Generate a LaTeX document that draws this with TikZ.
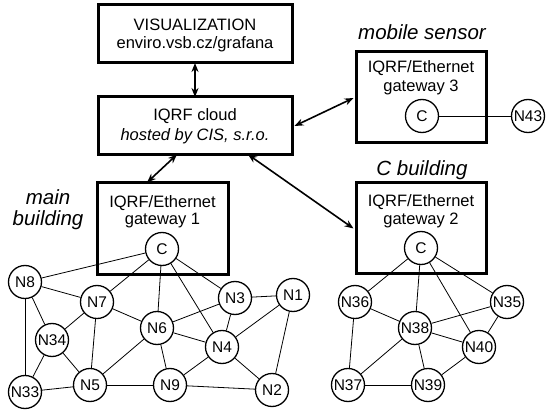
\documentclass[tikz,border=0pt]{standalone}
\usepackage{fontspec}
\setmainfont{Liberation Sans}
\usetikzlibrary{arrows.meta,calc}
\begin{document}
\begin{tikzpicture}[x=1pt,y=-1pt,
  box/.style={draw,line width=3pt,rectangle,inner sep=0pt},
  btxt/.style={font=\fontsize{16.5}{19}\selectfont,inner sep=0pt},
  ltxt/.style={font=\fontsize{20.5}{21}\selectfont\itshape,inner sep=0pt},
  nd/.style={draw,circle,line width=1.3pt,fill=white,minimum size=33pt,inner sep=0pt,font=\fontsize{15.5}{15.5}\selectfont},
  ed/.style={line width=0.8pt},
  dbl/.style={line width=1.6pt,{Stealth[length=9pt,width=7pt]}-{Stealth[length=9pt,width=7pt]}}
]
\useasboundingbox (0,0) rectangle (550,417);
% boxes
\node[box,minimum width=194pt,minimum height=58pt] (vis) at (195,34) {};
\node[btxt] at (195,25) {VISUALIZATION};
\node[btxt] at (195,44) {enviro.vsb.cz/grafana};
\node[box,minimum width=194pt,minimum height=58pt] (cloud) at (195,126) {};
\node[btxt] at (195,116) {IQRF cloud};
\node[btxt] at (195,136) {\itshape hosted by CIS, s.r.o.};
\node[box,minimum width=131pt,minimum height=92pt] (gw1) at (162.5,229) {};
\node[btxt] at (162.5,203) {IQRF/Ethernet};
\node[btxt] at (162.5,221) {gateway 1};
\node[box,minimum width=130pt,minimum height=91pt] (gw3) at (421,97.5) {};
\node[btxt] at (421,68) {IQRF/Ethernet};
\node[btxt] at (421,87) {gateway 3};
\node[box,minimum width=130pt,minimum height=91pt] (gw2) at (421,228.5) {};
\node[btxt] at (421,202) {IQRF/Ethernet};
\node[btxt] at (421,220) {gateway 2};
% labels
\node[ltxt] (lms) at (422,32) {mobile sensor};
\node[ltxt] (lcb) at (422,170) {C building};
\node[ltxt] (lmb1) at (48,197) {main};
\node[ltxt] (lmb2) at (48,220) {building};
% arrow coordinates
\coordinate (a1) at ($(vis.south)+(0,-1.5)$);
\coordinate (a2) at ($(cloud.north)+(0,1.5)$);
\coordinate (b1) at ($(cloud.south)+(-18,-2)$);
\coordinate (b2) at ($(gw1.north)+(-15.5,1)$);
\coordinate (c1) at ($(cloud.east)+(1,0)$);
\coordinate (c2) at ($(gw3.west)+(-1,0.5)$);
\coordinate (d1) at ($(cloud.south)+(53,-2)$);
\coordinate (d2) at ($(gw2.west)+(-1,0)$);
\draw[dbl] (a1) -- (a2);
\draw[dbl] (b1) -- (b2);
\draw[dbl] (c1) -- (c2);
\draw[dbl] (d1) -- (d2);
% main building
\node[nd] (C1) at (162,249) {C};
\node[nd] (N8) at (25,282) {N8};
\node[nd] (N7) at (97,302) {N7};
\node[nd] (N34) at (52,340) {N34};
\node[nd] (N33) at (25,392) {N33};
\node[nd] (N5) at (90,385) {N5};
\node[nd] (N6) at (157,328) {N6};
\node[nd] (N9) at (170,385) {N9};
\node[nd] (N3) at (235,298) {N3};
\node[nd] (N1) at (293,295) {N1};
\node[nd] (N4) at (222,347) {N4};
\node[nd] (N2) at (272,390) {N2};
\foreach \a/\b in {C1/N8,C1/N7,C1/N6,C1/N4,C1/N3,N8/N7,N8/N34,N8/N33,N7/N34,N7/N6,N7/N5,N34/N33,N34/N5,N33/N5,N5/N9,N5/N6,N6/N9,N6/N3,N6/N4,N3/N1,N3/N4,N1/N4,N1/N2,N4/N9,N4/N2,N9/N2}
  \draw[ed] (\a) -- (\b);
% C building
\node[nd] (C2) at (421,248) {C};
\node[nd] (N36) at (355,302) {N36};
\node[nd] (N35) at (507,302) {N35};
\node[nd] (N38) at (415,328) {N38};
\node[nd] (N40) at (479,347) {N40};
\node[nd] (N37) at (348,385) {N37};
\node[nd] (N39) at (428,385) {N39};
\foreach \a/\b in {C2/N36,C2/N38,C2/N40,C2/N35,N36/N38,N36/N37,N38/N35,N38/N40,N38/N37,N38/N39,N35/N40,N40/N39,N37/N39}
  \draw[ed] (\a) -- (\b);
% mobile sensor
\node[nd] (C3) at (422,116) {C};
\node[nd] (N43) at (528,116) {N43};
\draw[ed] (C3) -- (N43);
\end{tikzpicture}
\end{document}
